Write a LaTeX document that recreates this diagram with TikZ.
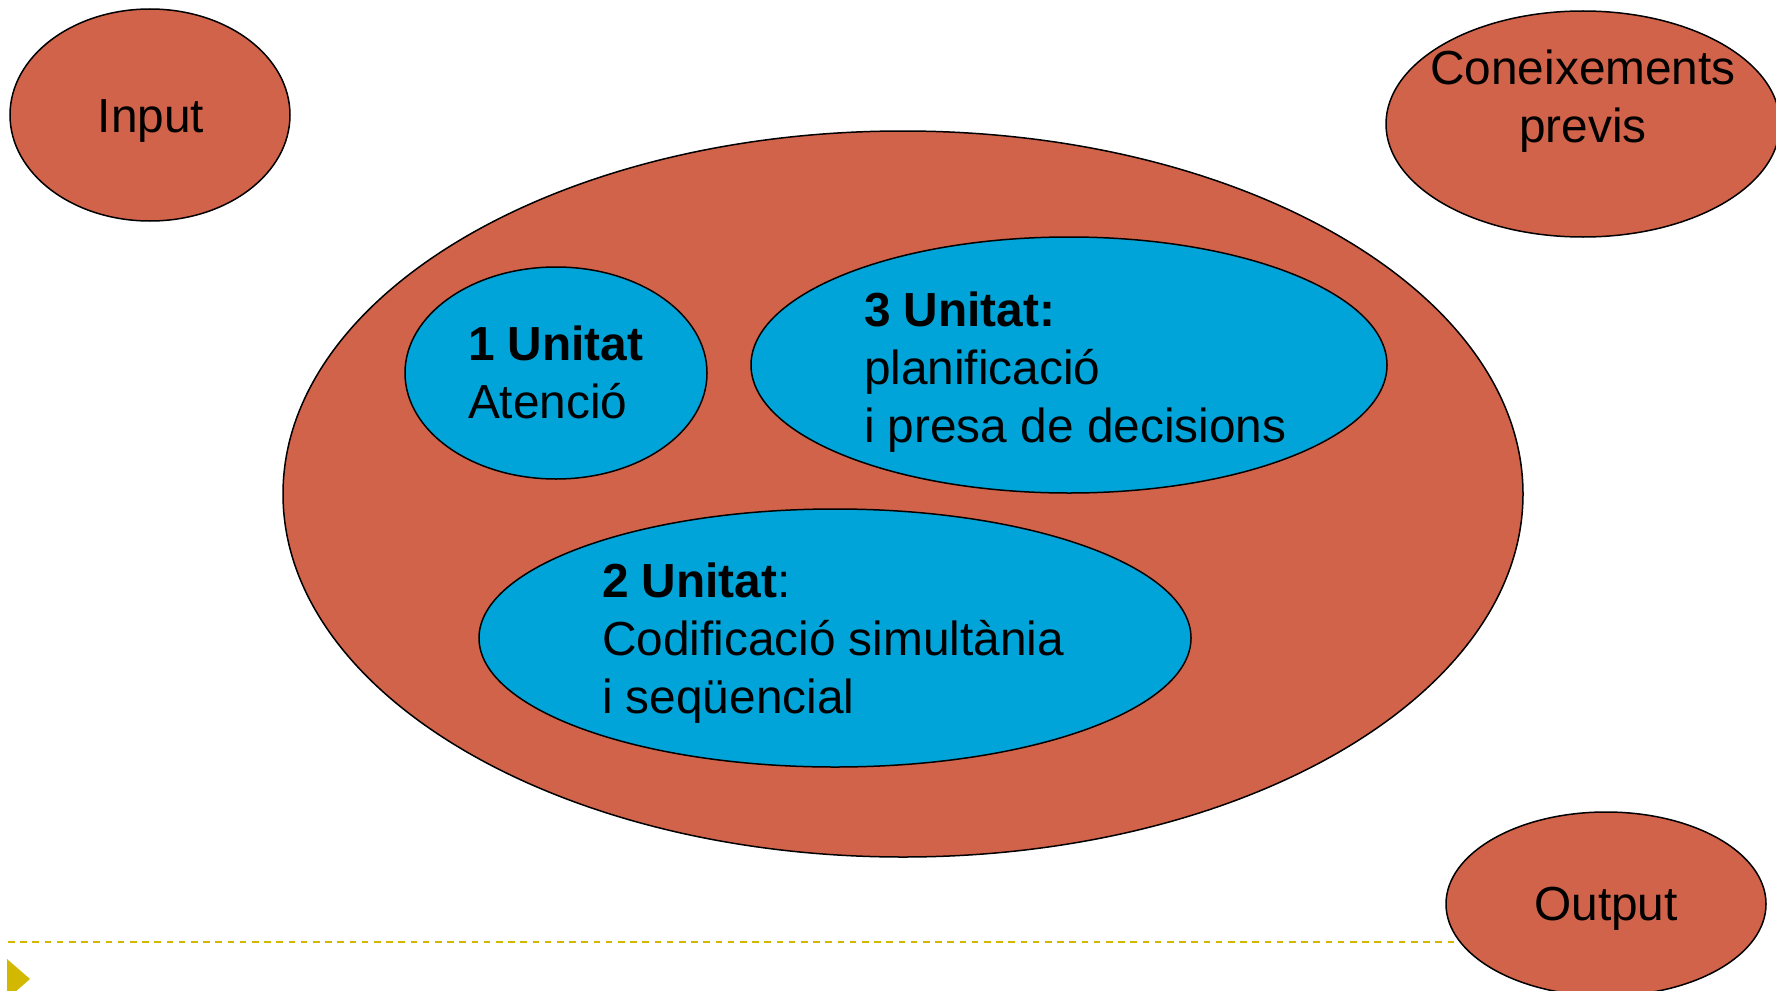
\documentclass[tikz,border=0pt]{standalone}
\usepackage{fontspec}
\setmainfont{Liberation Sans}
\usetikzlibrary{shapes.geometric}
\definecolor{redor}{RGB}{209,99,74}
\definecolor{blueu}{RGB}{0,164,216}
\definecolor{olive}{RGB}{210,184,0}
\tikzset{
  ell/.style={ellipse, draw=black, line width=0.75pt, inner sep=0pt, outer sep=0pt},
  redell/.style={ell, fill=redor},
  blueell/.style={ell, fill=blueu},
  txt/.style={inner sep=0pt, outer sep=0pt, font=\fontsize{23.9pt}{28.9pt}\selectfont},
}
\begin{document}
\begin{tikzpicture}[x=0.5pt,y=-0.5pt]
\useasboundingbox (0,0) rectangle (1776,990);
\clip (0,0) rectangle (1776,990);
% dashed line and bullet
\coordinate (dl) at (8,942);
\coordinate (dr) at (1500,942);
\draw[olive, line width=1pt, dash pattern=on 3.3pt off 2.8pt] (dl) -- (dr);
\fill[olive] (7,959) -- (30,979) -- (7,999) -- cycle;
% outer ellipses
\node[redell, minimum width=140pt, minimum height=106pt] (inp) at (150,115) {};
\node[redell, minimum width=197pt, minimum height=113pt] (con) at (1583,124) {};
\node[redell, minimum width=160pt, minimum height=92pt] (out) at (1606,904) {};
\node[redell, minimum width=620pt, minimum height=363pt] (big) at (903,494) {};
% inner ellipses
\node[blueell, minimum width=151pt, minimum height=106pt] (u1) at (556,373) {};
\node[blueell, minimum width=318pt, minimum height=128pt] (u3) at (1069,365) {};
\node[blueell, minimum width=356pt, minimum height=129pt] (u2) at (835,638) {};
% texts (base anchor = baseline of the last line)
\node[txt, anchor=base] (tinp) at (151,133) {Input};
\node[txt, anchor=base, align=center] (tcon) at (1583,142) {Coneixements\\previs};
\node[txt, anchor=base] (tout) at (1606,920) {Output};
\node[txt, anchor=base west, align=left] (tu1) at (468,418) {\textbf{1 Unitat}\\Atenció};
\node[txt, anchor=base west, align=left] (tu3) at (864,442) {\textbf{3 Unitat:}\\planificació\\i presa de decisions};
\node[txt, anchor=base west, align=left] (tu2) at (602,713) {\textbf{2 Unitat}:\\Codificació simultània\\i seqüencial};
\end{tikzpicture}
\end{document}
